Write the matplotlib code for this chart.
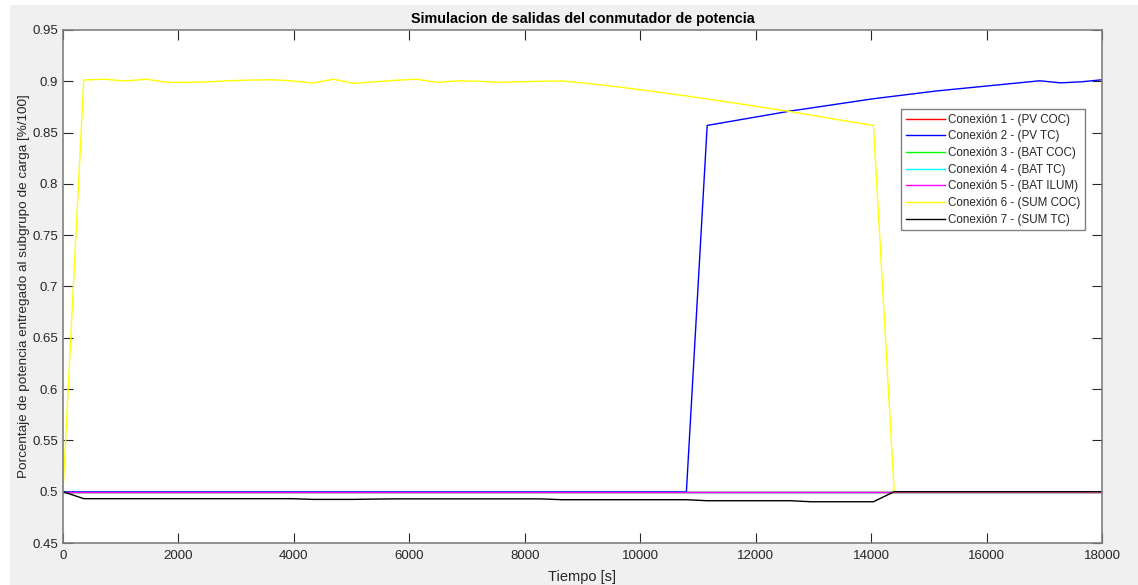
import numpy as np
import matplotlib
matplotlib.use("Agg")
import matplotlib.pyplot as plt
from matplotlib.patches import Rectangle

plt.rcParams['font.family'] = ['Liberation Sans', 'DejaVu Sans']

# ---- data ----
t = list(range(0, 18001, 360))  # 51 samples, seconds

labels = ['Conexión 1 - (PV COC)', 'Conexión 2 - (PV TC)', 'Conexión 3 - (BAT COC)',
          'Conexión 4 - (BAT TC)', 'Conexión 5 - (BAT ILUM)', 'Conexión 6 - (SUM COC)',
          'Conexión 7 - (SUM TC)']
colors = ['#ff0000', '#0000ff', '#00ff00', '#00ffff', '#ff00ff', '#ffff00', '#000000']

conn1 = [0.5] * 51
conn3 = [0.5] * 51
conn4 = [0.5] * 51
conn5 = [0.5] * 51

conn2 = [0.5] * 31 + [0.857, 0.8605, 0.864, 0.8675, 0.871, 0.874, 0.877, 0.880, 0.883,
                      0.8855, 0.888, 0.8905, 0.8925, 0.8945, 0.8965, 0.8985, 0.9005,
                      0.8985, 0.8995, 0.9015]

conn6 = [0.5, 0.9013, 0.902, 0.9003, 0.902, 0.899, 0.899, 0.8995, 0.9005, 0.9012,
         0.9015, 0.9005, 0.8983, 0.902, 0.898, 0.8995, 0.901, 0.902, 0.899, 0.9005,
         0.900, 0.899, 0.8995, 0.900, 0.9003, 0.8985, 0.8962, 0.8938, 0.8912, 0.8885,
         0.8857, 0.8828, 0.8798, 0.8767, 0.8736, 0.8705, 0.8670, 0.8636, 0.8602, 0.8570] \
        + [0.5] * 11

conn7 = [0.5] + [0.4932] * 11 + [0.4925, 0.4925, 0.4925, 0.4928] + [0.4930] * 8 \
        + [0.4922] * 7 + [0.4912] * 5 + [0.4902] * 4 + [0.5] * 11

series = [conn1, conn2, conn3, conn4, conn5, conn6, conn7]

# ---- figure ----
W, H = 1138, 585
fig = plt.figure(figsize=(W / 100, H / 100), dpi=100, facecolor='white')
fig.patches.append(Rectangle((10 / W, 0), 1 - 10 / W, 1 - 5 / H, transform=fig.transFigure,
                             facecolor='#f0f0f0', edgecolor='none', zorder=-10))

ax = fig.add_axes([63 / W, 1 - 543 / H, (1102 - 63) / W, (543 - 30) / H])
ax.set_facecolor('white')

for s, c, lab in zip(series, colors, labels):
    ax.plot(t, s, color=c, lw=1.0, label=lab)

ax.set_xlim(0, 18000)
ax.set_ylim(0.45, 0.95)
ax.set_xticks(np.arange(0, 18001, 2000))
ax.set_yticks(np.arange(0.45, 0.951, 0.05))
ax.set_yticklabels(['0.45', '0.5', '0.55', '0.6', '0.65', '0.7', '0.75', '0.8', '0.85', '0.9', '0.95'])

tc = '#262626'
ax.tick_params(direction='in', length=7, width=0.8, color=tc, labelcolor=tc, labelsize=9.5,
               top=True, right=True)
ax.tick_params(axis='x', pad=5)
ax.tick_params(axis='y', pad=3.5)
for sp in ax.spines.values():
    sp.set_color('#808080')
    sp.set_linewidth(1.2)

ax.set_title('Simulacion de salidas del conmutador de potencia', fontsize=10.3, fontweight='bold',
             color='#000000', pad=5)
ax.set_xlabel('Tiempo [s]', fontsize=10.5, color=tc, labelpad=6)
ax.set_ylabel('Porcentaje de potencia entregado al subgrupo de carga [%/100]', fontsize=9.7,
              color=tc, labelpad=2)

leg = ax.legend(loc='upper left', bbox_to_anchor=(0.807, 0.846), fontsize=8.4,
                frameon=True, fancybox=False, edgecolor='#808080', framealpha=1,
                handlelength=3.3, handletextpad=0.3, labelspacing=0.40, borderpad=0.4,
                borderaxespad=0)
leg.get_frame().set_linewidth(1.0)
for txt in leg.get_texts():
    txt.set_color(tc)

fig.savefig('out.png', dpi=100, facecolor=fig.get_facecolor())
